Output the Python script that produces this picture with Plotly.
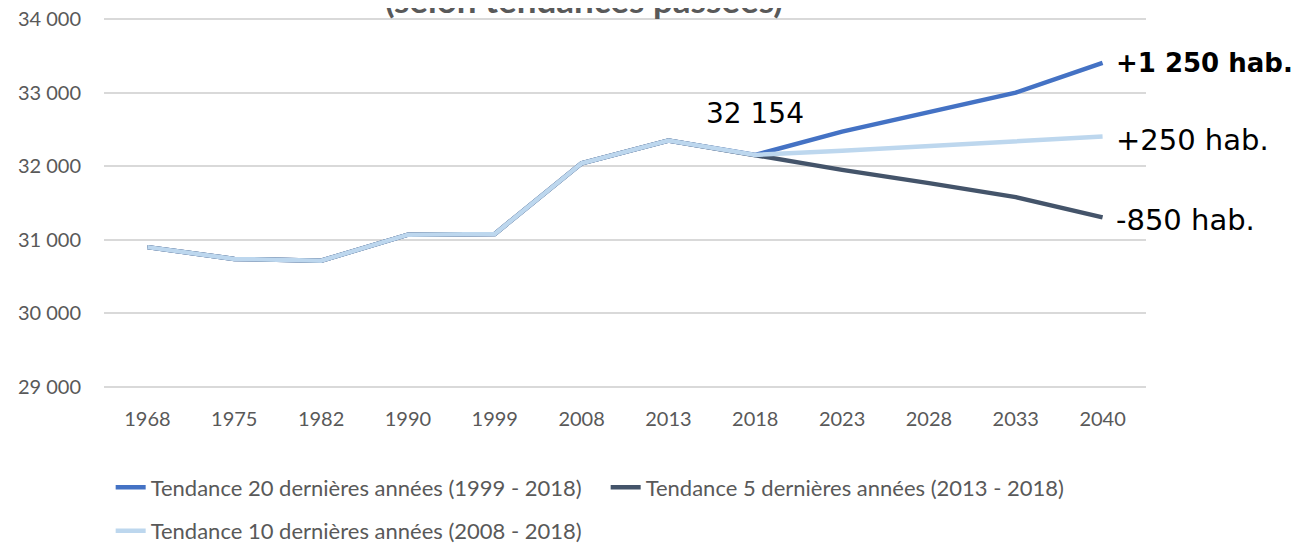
import plotly.graph_objects as go

years = ["1968", "1975", "1982", "1990", "1999", "2008", "2013", "2018",
         "2023", "2028", "2033", "2040"]
historique = [30900, 30740, 30715, 31070, 31080, 32040, 32350, 32154]
proj_20 = [32470, 32730, 33000, 33404]
proj_5 = [31950, 31770, 31580, 31304]
proj_10 = [32210, 32270, 32330, 32404]

series_names = ["Tendance 20 dernières années (1999 - 2018)",
                "Tendance 5 dernières années (2013 - 2018)",
                "Tendance 10 dernières années (2008 - 2018)"]
series_values = [historique + proj_20, historique + proj_5, historique + proj_10]
series_colors = ["#4472C4", "#44546A", "#BDD7EE"]
series_legends = ["legend", "legend", "legend2"]
end_labels = ["+1 250 hab.", "-850 hab.", "+250 hab."]
end_bold = [True, False, False]
end_yshift = [0, -3, -3]
title_text = "(selon tendances passées)"

fig = go.Figure()
for name, vals, col, leg in zip(series_names, series_values, series_colors, series_legends):
    fig.add_trace(go.Scatter(x=years, y=vals, mode="lines", name=name,
                             line=dict(color=col, width=4.5), legend=leg,
                             hoverinfo="skip"))

i2018 = years.index("2018")
ilast = len(years) - 1

# data label at 2018
fig.add_annotation(x=i2018, y=historique[-1], xref="x", yref="y",
                   text=f"{historique[-1]:,}".replace(",", " "), showarrow=False,
                   yshift=41, font=dict(family="DejaVu Sans", size=28, color="#000000"))

for vals, lab, b, ys in zip(series_values, end_labels, end_bold, end_yshift):
    fig.add_annotation(x=ilast, y=vals[-1], xref="x", yref="y",
                       text=f"<b>{lab}</b>" if b else lab, showarrow=False,
                       xanchor="left", xshift=11, yshift=ys,
                       font=dict(family="DejaVu Sans", size=26 if b else 29, color="#000000"))

fig.add_annotation(x=0.4607, y=1, xref="paper", yref="paper", yanchor="bottom",
                   yshift=-4, text=f"<b>{title_text}</b>", showarrow=False,
                   font=dict(family="Lato", size=35, color="#595959"))

fig.update_layout(
    width=1295, height=537,
    margin=dict(l=96, r=157, t=10, b=157, autoexpand=False),
    plot_bgcolor="white", paper_bgcolor="white",
    separators=", ",
    showlegend=True,
    legend=dict(orientation="h", x=0.0064, y=-0.269, xanchor="left", yanchor="middle",
                font=dict(family="Lato", size=22, color="#595959"),
                bgcolor="rgba(0,0,0,0)", tracegroupgap=0, entrywidth=450),
    legend2=dict(orientation="h", x=0.0064, y=-0.3865, xanchor="left", yanchor="middle",
                 font=dict(family="Lato", size=22, color="#595959"),
                 bgcolor="rgba(0,0,0,0)"),
)
fig.update_xaxes(type="category", range=[-0.5, len(years) - 0.5],
                 showgrid=False, showline=False, zeroline=False,
                 ticks="", tickfont=dict(family="Lato", size=20, color="#595959"),
                 ticklabelstandoff=17)
fig.update_yaxes(range=[28985, 34015], tickvals=[29000, 30000, 31000, 32000, 33000, 34000],
                 tickformat=",", ticklabeloverflow="allow",
                 showgrid=True, gridcolor="#D9D9D9", gridwidth=1.5, zeroline=False,
                 showline=False, ticks="", ticklabelstandoff=22,
                 tickfont=dict(family="Lato", size=20, color="#595959"))

fig.write_html("out.html")
